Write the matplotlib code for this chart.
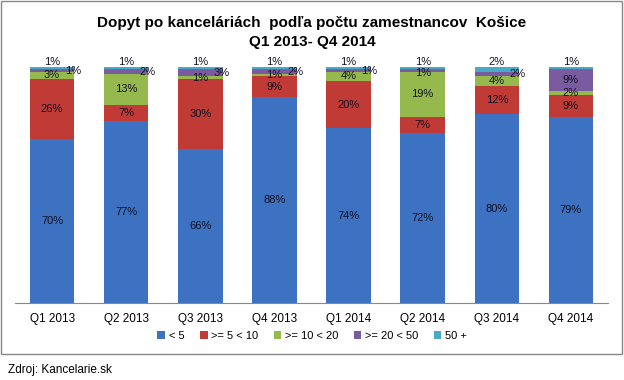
import matplotlib.pyplot as plt
import numpy as np
from matplotlib.patches import Rectangle

plt.rcParams['font.family'] = ['Liberation Sans', 'DejaVu Sans']

quarters = ['Q1 2013', 'Q2 2013', 'Q3 2013', 'Q4 2013',
            'Q1 2014', 'Q2 2014', 'Q3 2014', 'Q4 2014']
series = ['< 5', '>= 5 < 10', '>= 10 < 20', '>= 20 < 50', '50 +']

lt5 = [70, 77, 66, 88, 74, 72, 80, 79]
s5_10 = [26, 7, 30, 9, 20, 7, 12, 9]
s10_20 = [3, 13, 1, 1, 4, 19, 4, 2]
s20_50 = [1, 2, 3, 2, 1, 1, 2, 9]
s50p = [1, 1, 1, 1, 1, 1, 2, 1]

colors = ['#3D72C2', '#C03A36', '#96B94E', '#7A5B9F', '#47AAC6']

data = np.array([lt5, s5_10, s10_20, s20_50, s50p], dtype=float)
share = data / data.sum(axis=0) * 100  # Excel 100% stacked

fig = plt.figure(figsize=(6.24, 3.8), dpi=100)
ax = fig.add_axes([15 / 624, 77 / 380, 593 / 624, 236 / 380])

x = np.arange(len(quarters))
bottom = np.zeros(len(quarters))
# label offset (points) for the small purple segment
purple_dx = [15, 15, 15, 15, 15, 0, 15, 0]
purple_dy = [0, 0, 0, 0, 0, -1.5, 0, 0]

for i, name in enumerate(series):
    bars = ax.bar(x, share[i], 0.6, bottom=bottom, color=colors[i], label=name,
                  edgecolor='none')
    for j, b in enumerate(bars):
        txt = '%d%%' % data[i, j]
        cx = b.get_x() + b.get_width() / 2
        if i == 4:
            ax.annotate(txt, (cx, bottom[j] + share[i, j]),
                        xytext=(0, 0), textcoords='offset points',
                        ha='center', va='bottom', fontsize=8, color='#111122')
        elif i == 3:
            ax.annotate(txt, (cx, bottom[j] + share[i, j] / 2),
                        xytext=(purple_dx[j], purple_dy[j]), textcoords='offset points',
                        ha='center', va='center', fontsize=8, color='#111122')
        else:
            ax.text(cx, bottom[j] + share[i, j] / 2, txt,
                    ha='center', va='center', fontsize=8, color='#111122')
    bottom += share[i]

ax.set_xlim(-0.5, len(quarters) - 0.5)
ax.set_ylim(0, 100)
ax.set_xticks(x)
ax.set_xticklabels(quarters, fontsize=8.5)
ax.tick_params(axis='x', length=0, pad=7)
ax.set_yticks([])
for s in ['top', 'right', 'left']:
    ax.spines[s].set_visible(False)
ax.spines['bottom'].set_color('#888888')

fig.legend(loc='center', bbox_to_anchor=(312 / 624, 1 - 336 / 380), ncol=5,
           frameon=False, fontsize=8, handlelength=0.7, handleheight=0.7,
           handletextpad=0.3, columnspacing=1.4)

fig.text(0.5, 1 - 23 / 380, 'Dopyt po kanceláriách  podľa počtu zamestnancov  Košice',
         ha='center', va='center', fontsize=11, fontweight='bold')
fig.text(0.5, 1 - 42 / 380, 'Q1 2013- Q4 2014',
         ha='center', va='center', fontsize=11, fontweight='bold')

fig.patches.append(Rectangle((1 / 624, 1 - 354 / 380), 621 / 624, 353 / 380,
                             transform=fig.transFigure, fill=False,
                             edgecolor='#888888', linewidth=1))
fig.text(8 / 624, 1 - 370 / 380, 'Zdroj: Kancelarie.sk', ha='left', va='center',
         fontsize=8.5)

plt.savefig('out.png', dpi=100)
